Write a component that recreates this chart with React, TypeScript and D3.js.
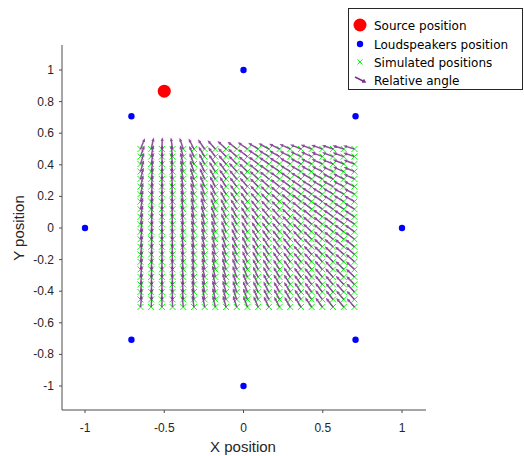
import React from "react";
import * as d3 from "d3";

// ---- data ----
const sourcePos = { x: -0.5, y: 0.866 };
const speakerX = [1, 0.707, 0, -0.707, -1, -0.707, 0, 0.707];
const speakerY = [0, 0.707, 1, 0.707, 0, -0.707, -1, -0.707];
const gridX = [-0.65, -0.5825, -0.515, -0.4475, -0.38, -0.3125, -0.245, -0.1775, -0.11, -0.0425, 0.025,
  0.0925, 0.16, 0.2275, 0.295, 0.3625, 0.43, 0.4975, 0.565, 0.6325, 0.7];
const gridY = [-0.5, -0.452, -0.405, -0.357, -0.31, -0.262, -0.214, -0.167, -0.119, -0.071, -0.024,
  0.024, 0.071, 0.119, 0.167, 0.214, 0.262, 0.31, 0.357, 0.405, 0.452, 0.5];
const xTicks = [-1, -0.5, 0, 0.5, 1];
const yTicks = [-1, -0.8, -0.6, -0.4, -0.2, 0, 0.2, 0.4, 0.6, 0.8, 1];
const legendLabels = ["Source position", "Loudspeakers position", "Simulated positions", "Relative angle"];

const W = 524, H = 456;
const AX = "#4d4d4d";
const TXT = "#262626";
const PURPLE = "#7E2F8E";

export default function App() {
  const x = d3.scaleLinear().domain([-1, 1]).range([85, 402]);
  const y = d3.scaleLinear().domain([-1, 1]).range([386, 70]);
  const xLeft = 62, xRight = 426, yTop = 45, yBottom = 410;
  const tickFmt = (v: number) => (v === 0 ? "0" : String(+v.toFixed(1)));

  // quiver: unit vectors toward the source, MATLAB-like autoscale
  const dx = gridX[1] - gridX[0];
  const dy = gridY[1] - gridY[0];
  const len = 0.75 * Math.sqrt(dx * dx + dy * dy);
  const arrows: { x1: number; y1: number; x2: number; y2: number; h1: [number, number]; h2: [number, number] }[] = [];
  gridX.forEach((gx) => {
    gridY.forEach((gy) => {
      const ux = sourcePos.x - gx, uy = sourcePos.y - gy;
      const n = Math.hypot(ux, uy);
      const ex = gx + (ux / n) * len, ey = gy + (uy / n) * len;
      const x1 = x(gx), y1 = y(gy), x2 = x(ex), y2 = y(ey);
      const ang = Math.atan2(y2 - y1, x2 - x1);
      const hl = 2.2;
      arrows.push({
        x1, y1, x2, y2,
        h1: [x2 - hl * Math.cos(ang - 0.4), y2 - hl * Math.sin(ang - 0.4)],
        h2: [x2 - hl * Math.cos(ang + 0.4), y2 - hl * Math.sin(ang + 0.4)],
      });
    });
  });

  const cross = (cx: number, cy: number, s: number, key: string) => (
    <path key={key} d={`M${cx - s},${cy - s}L${cx + s},${cy + s}M${cx - s},${cy + s}L${cx + s},${cy - s}`}
      stroke="#00ff00" strokeWidth={1} fill="none" />
  );

  const legX = 348, legY = 8, legW = 174, legH = 81;
  const rowY = [25, 44, 62, 80];

  return (
    <svg width={W} height={H} style={{ position: "absolute", left: 0, top: 0, background: "#fff" }}
      fontFamily="'Liberation Sans', Arial, sans-serif">
      <rect x={0} y={0} width={W} height={H} fill="#fff" />
      {/* axes */}
      <line x1={xLeft} x2={xRight} y1={yBottom} y2={yBottom} stroke={AX} strokeWidth={1} />
      <line x1={xLeft} x2={xLeft} y1={yTop} y2={yBottom} stroke={AX} strokeWidth={1} />
      {xTicks.map((t) => (
        <g key={"xt" + t}>
          <line x1={x(t)} x2={x(t)} y1={yBottom} y2={yBottom + 3} stroke={AX} />
          <text x={x(t)} y={yBottom + 22} textAnchor="middle" fontSize={12} fill={TXT}>{tickFmt(t)}</text>
        </g>
      ))}
      {yTicks.map((t) => (
        <g key={"yt" + t}>
          <line x1={xLeft - 3} x2={xLeft} y1={y(t)} y2={y(t)} stroke={AX} />
          <text x={xLeft - 8} y={y(t) + 4} textAnchor="end" fontSize={12} fill={TXT}>{tickFmt(t)}</text>
        </g>
      ))}
      <text x={243} y={452} textAnchor="middle" fontSize={15} fill={TXT}>X position</text>
      <text transform={`translate(24,228) rotate(-90)`} textAnchor="middle" fontSize={15} fill={TXT}>Y position</text>

      {/* source */}
      <circle cx={x(sourcePos.x)} cy={y(sourcePos.y)} r={6.5} fill="#ff0000" />
      {/* speakers */}
      {speakerX.map((sx, i) => (
        <circle key={"sp" + i} cx={x(sx)} cy={y(speakerY[i])} r={3.2} fill="#0000ff" />
      ))}
      {/* simulated positions */}
      {gridX.map((gx) => gridY.map((gy) => cross(x(gx), y(gy), 3, `c${gx}_${gy}`)))}
      {/* quiver */}
      <g stroke={PURPLE} strokeWidth={1.5} strokeOpacity={0.85} fill="none" strokeLinecap="butt">
        {arrows.map((a, i) => (
          <path key={"q" + i}
            d={`M${a.x1},${a.y1}L${a.x2},${a.y2}M${a.h1[0]},${a.h1[1]}L${a.x2},${a.y2}L${a.h2[0]},${a.h2[1]}`} />
        ))}
      </g>

      {/* legend */}
      <rect x={legX + 0.5} y={legY + 0.5} width={legW} height={legH} fill="#fff" stroke={TXT} strokeWidth={1} />
      <circle cx={360} cy={rowY[0]} r={6.5} fill="#ff0000" />
      <circle cx={360} cy={rowY[1]} r={3.2} fill="#0000ff" />
      {cross(360, rowY[2], 2.5, "legc")}
      <path d={`M355,${rowY[3] - 3}L365,${rowY[3] + 2}M362,${rowY[3] + 2}L365,${rowY[3] + 2}L363.5,${rowY[3] - 0.5}`}
        stroke={PURPLE} strokeWidth={1.5} fill="none" />
      {legendLabels.map((l, i) => (
        <text key={l} x={374} y={rowY[i] + 4.5} fontSize={12} fill="#000"
          fontFamily="'DejaVu Sans', sans-serif">{l}</text>
      ))}
    </svg>
  );
}
